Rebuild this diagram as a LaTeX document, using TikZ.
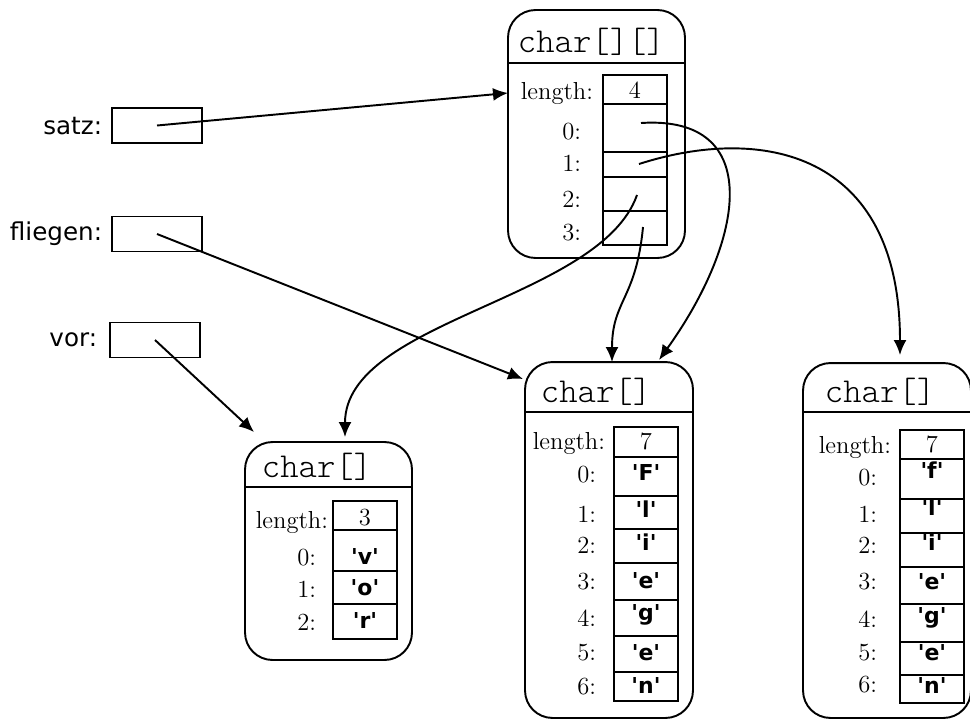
\documentclass[tikz,border=0pt]{standalone}
\usepackage{fontspec}
\newfontfamily\varfont{DejaVu Sans}
\newfontfamily\typefont{lmmonolt10-regular.otf}
\usetikzlibrary{arrows.meta}

\begin{document}
\begin{tikzpicture}[x=0.02cm, y=-0.02cm, line width=1.1pt,
    >={Latex[length=3mm,width=2.6mm]},
    varbox/.style={draw, minimum width=1.8cm, minimum height=0.7cm, inner sep=0pt},
    varname/.style={anchor=east, inner sep=0pt, font=\varfont\fontsize{14}{16}\selectfont},
    objbox/.style={draw, rounded corners=0.55cm, inner sep=0pt},
    typename/.style={anchor=west, inner sep=0pt, font=\typefont\fontsize{19.9}{22}\selectfont},
    idx/.style={anchor=east, inner sep=0pt, font=\fontsize{14}{16}\selectfont},
    num/.style={inner sep=0pt, font=\fontsize{14}{16}\selectfont},
    val/.style={inner sep=0pt, font=\varfont\bfseries\fontsize{12.5}{14}\selectfont}]
    \clip (0,0) rectangle (970,720);

    % Variables
    \node[varbox] (satz) at (157,125.5) {};
    \node[varbox] (fliegen) at (157,234) {};
    \node[varbox] (vor) at (155,340) {};
    \node[varname] (satzlbl) at (103,126) {satz:};
    \node[varname] (fliegenlbl) at (103,234) {fliegen:};
    \node[varname] (vorlbl) at (98,340) {vor:};

    % char[][] object
    \node[objbox, minimum width=3.54cm, minimum height=4.96cm] (arr2d) at (596.5,134) {};
    \draw (508,63) -- (685,63);
    \node[typename] (type2d) at (517,42) {char[][]};
    \draw (603,75) rectangle (667,245);
    \foreach \y in {104,152,177,211} \draw (603,\y) -- (667,\y);
    \node[idx] (len2d) at (594,93) {length:};
    \node[num] (n2d) at (635,90) {4};
    \foreach \i/\y in {0/132,1/163,2/199,3/233} \node[idx] (t\i) at (582,\y) {\i:};
    \coordinate (p0) at (641,123);
    \coordinate (p1) at (639,164);
    \coordinate (p2) at (637,195);
    \coordinate (p3) at (643,227);

    % char[] object for "vor"
    \node[objbox, minimum width=3.34cm, minimum height=4.36cm] (arrV) at (328.5,551) {};
    \draw (245,487) -- (412,487);
    \node[typename] (typeV) at (261,467) {char[]};
    \draw (333,501) rectangle (397,639);
    \foreach \y in {530,571,604} \draw (333,\y) -- (397,\y);
    \node[idx] (lenV) at (329,522) {length:};
    \node[num] (nV) at (365,518) {3};
    \foreach \i/\y in {0/558,1/589,2/622} \node[idx] (v\i) at (317,\y) {\i:};
    \foreach \i/\y/\c in {0/556/v,1/588/o,2/620/r} \node[val] (vc\i) at (365,\y) {'\c'};

    % char[] object for "Fliegen"
    \node[objbox, minimum width=3.36cm, minimum height=7.12cm] (arrF) at (609,540) {};
    \draw (525,412) -- (693,412);
    \node[typename] (typeF) at (540,392) {char[]};
    \draw (614,427) rectangle (678,701);
    \foreach \y in {457,496,529,563,600,636,672} \draw (614,\y) -- (678,\y);
    \node[idx] (lenF) at (606,443) {length:};
    \node[num] (nF) at (646,441) {7};
    \foreach \i/\y in {0/475,1/514,2/545,3/582,4/618,5/653,6/687} \node[idx] (F\i) at (597,\y) {\i:};
    \foreach \i/\y/\c in {0/472/F,1/509/l,2/542/i,3/581/e,4/615/g,5/653/e,6/685/n}
        \node[val] (Fc\i) at (646,\y) {'\c'};

    % char[] object for "fliegen"
    \node[objbox, minimum width=3.36cm, minimum height=7.1cm] (arrf) at (887,540.5) {};
    \draw (803,412) -- (971,412);
    \node[typename] (typef) at (824,392) {char[]};
    \draw (900,430) rectangle (964,703);
    \foreach \y in {459,499,533,567,604,642,675} \draw (900,\y) -- (964,\y);
    \node[idx] (lenf) at (892,447) {length:};
    \node[num] (nf) at (932,444) {7};
    \foreach \i/\y in {0/478,1/514,2/545,3/582,4/619,5/653,6/685} \node[idx] (f\i) at (878,\y) {\i:};
    \foreach \i/\y/\c in {0/470/f,1/507/l,2/542/i,3/582/e,4/618/g,5/653/e,6/685/n}
        \node[val] (fc\i) at (932,\y) {'\c'};

    % Arrow ends
    \coordinate (in2d) at (508,93);
    \coordinate (inF) at (523,379);
    \coordinate (inV) at (254,432);
    \coordinate (inF1) at (612,362);
    \coordinate (inF2) at (659,360);
    \coordinate (inf) at (900,355);
    \coordinate (inV2) at (345,437);

    % References
    \draw[->] (satz.center) -- (in2d);
    \draw[->] (fliegen.center) -- (inF);
    \draw[->] (vor.center) -- (inV);
    \draw[->] (p0) .. controls (765,115) and (745,240) .. (inF2);
    \draw[->] (p1) .. controls (760,125) and (900,150) .. (inf);
    \draw[->] (p2) .. controls (600,300) and (345,320) .. (inV2);
    \draw[->] (p3) .. controls (636,300) and (612,300) .. (inF1);
\end{tikzpicture}
\end{document}
